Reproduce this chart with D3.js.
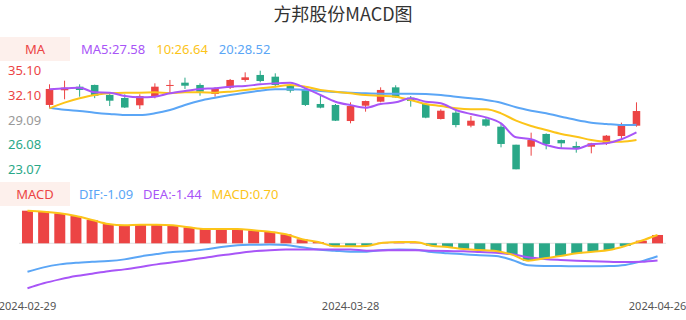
<!DOCTYPE html>
<html>
<head>
<meta charset="utf-8">
<script src="https://cdn.jsdelivr.net/npm/d3@7"></script>
<style>
body { margin: 0; background: #fff; }
svg { display: block; font-family: "Noto Sans", "Noto Sans CJK SC", sans-serif; }
</style>
</head>
<body>
<svg width="686" height="320"></svg>
<script>
const dates = ['2024-02-29', '2024-03-01', '2024-03-04', '2024-03-05', '2024-03-06', '2024-03-07', '2024-03-08',
    '2024-03-11', '2024-03-12', '2024-03-13', '2024-03-14', '2024-03-15', '2024-03-18', '2024-03-19', '2024-03-20',
    '2024-03-21', '2024-03-22', '2024-03-25', '2024-03-26', '2024-03-27', '2024-03-28', '2024-03-29', '2024-04-01',
    '2024-04-02', '2024-04-03', '2024-04-08', '2024-04-09', '2024-04-10', '2024-04-11', '2024-04-12', '2024-04-15',
    '2024-04-16', '2024-04-17', '2024-04-18', '2024-04-19', '2024-04-22', '2024-04-23', '2024-04-24', '2024-04-25',
    '2024-04-26'];
const open = [30.92, 32.71, 33.15, 33.36, 32.14, 31.77, 30.88, 32.01, 33.24, 33.64, 33.36, 32.26, 33.03, 33.97, 34.58,
    34.37, 33.36, 32.75, 31.04, 30.92, 28.96, 30.83, 31.32, 33.07, 31.81, 31.04, 29.21, 29.98, 28.39, 29.17, 28.27,
    26.07, 25.83, 27.38, 26.64, 25.91, 25.83, 26.24, 27.13, 28.39];
const high = [33.44, 33.88, 33.44, 33.40, 32.34, 32.22, 32.22, 33.56, 33.97, 34.25, 33.56, 33.07, 34.09, 34.90, 35.10,
    34.78, 33.48, 32.80, 32.05, 31.04, 31.24, 31.45, 33.07, 33.32, 32.01, 31.10, 30.39, 30.30, 29.57, 29.41, 28.60,
    26.07, 27.54, 27.45, 26.70, 26.44, 26.30, 27.25, 28.76, 31.24];
const low = [30.51, 31.61, 31.93, 31.75, 30.79, 30.55, 30.43, 31.73, 32.42, 32.87, 32.05, 31.93, 32.87, 33.76, 33.68,
    33.07, 32.42, 30.79, 30.51, 28.96, 28.68, 30.10, 31.24, 31.80, 30.71, 29.30, 29.15, 28.19, 28.19, 28.27, 25.75,
    23.07, 24.73, 25.51, 25.63, 25.10, 25.02, 26.03, 26.64, 28.27];
const close = [32.87, 33.03, 32.75, 32.05, 31.44, 30.61, 32.01, 33.15, 33.36, 33.27, 32.54, 32.95, 33.97, 34.29, 33.84,
    33.36, 32.66, 30.92, 30.59, 29.00, 30.79, 31.40, 32.75, 31.85, 31.40, 29.37, 30.22, 28.47, 29.00, 28.39, 26.16,
    23.07, 26.64, 26.16, 26.24, 25.63, 26.24, 27.17, 28.56, 30.18];
const ma5 = [32.83, 32.95, 33.03, 32.46, 32.42, 32.01, 31.85, 31.93, 32.34, 32.62, 32.87, 32.95, 33.15, 33.23, 33.44,
    33.56, 33.64, 32.95, 32.14, 31.32, 30.90, 30.59, 31.04, 31.24, 31.73, 31.32, 31.12, 30.30, 29.82, 29.41, 28.68,
    26.97, 26.73, 26.03, 25.63, 25.58, 26.12, 26.24, 26.73, 27.58];
const ma10 = [30.51, 31.20, 31.73, 32.14, 32.34, 32.42, 32.42, 32.46, 32.34, 32.46, 32.46, 32.42, 32.54, 32.75, 32.95,
    33.15, 33.36, 33.15, 32.75, 32.54, 32.34, 32.14, 32.05, 31.93, 31.53, 31.04, 30.79, 30.51, 30.39, 30.39, 29.90,
    29.00, 28.35, 27.86, 27.38, 27.05, 26.64, 26.44, 26.44, 26.64];
const ma20 = [30.59, 30.34, 30.18, 29.98, 29.82, 29.69, 29.69, 29.90, 30.30, 30.92, 31.44, 31.81, 32.14, 32.42, 32.66,
    32.83, 32.83, 32.75, 32.62, 32.50, 32.42, 32.34, 32.30, 32.30, 32.30, 32.26, 32.14, 31.93, 31.73, 31.53, 31.20,
    30.63, 30.22, 29.90, 29.49, 29.08, 28.76, 28.60, 28.47, 28.52];
const dif = [-2.39, -2.02, -1.77, -1.63, -1.55, -1.49, -1.35, -1.10, -0.90, -0.73, -0.65, -0.51, -0.31, -0.17, -0.12,
    -0.09, -0.14, -0.34, -0.53, -0.62, -0.70, -0.70, -0.57, -0.53, -0.54, -0.73, -0.84, -0.92, -1.01, -1.07, -1.40,
    -1.85, -1.91, -1.91, -1.93, -1.93, -1.91, -1.82, -1.52, -1.09];
const dea = [-3.78, -3.36, -3.03, -2.75, -2.55, -2.35, -2.19, -1.99, -1.77, -1.60, -1.40, -1.21, -1.01, -0.84, -0.67,
    -0.59, -0.53, -0.51, -0.51, -0.51, -0.51, -0.62, -0.60, -0.58, -0.58, -0.62, -0.65, -0.67, -0.73, -0.79, -0.92,
    -1.18, -1.32, -1.40, -1.46, -1.51, -1.55, -1.58, -1.55, -1.44];
const macd = [2.74, 2.66, 2.52, 2.29, 1.96, 1.62, 1.51, 1.56, 1.56, 1.51, 1.34, 1.20, 1.20, 1.20, 1.09, 0.97, 0.76,
    0.34, 0.11, -0.25, -0.25, -0.22, 0.05, 0.12, 0.10, -0.20, -0.30, -0.48, -0.56, -0.65, -0.95, -1.46, -1.26, -1.07,
    -0.84, -0.70, -0.56, -0.22, 0.22, 0.70];
const priceTicks = ['35.10', '32.10', '29.09', '26.08', '23.07'];
const dateTicks = ['2024-02-29', '2024-03-28', '2024-04-26'];

const red = '#ec4444';
const green = '#2aa888';
const purple = '#a855f7';
const yellow = '#fcc419';
const blue = '#5ba6f6';

const svg = d3.select('svg');

svg.append('text')
    .attr('x', 343)
    .attr('y', 21)
    .attr('text-anchor', 'middle')
    .style('font-family', '"Noto Sans CJK SC", sans-serif')
    .style('font-size', '18px')
    .attr('fill', '#333')
    .text('方邦股份MACD图');

// ---- candlestick panel
const xTop = d3.scalePoint()
    .domain(dates)
    .range([42, 644])
    .padding(0.5);
const yPrice = d3.scaleLinear()
    .domain([+priceTicks[4], +priceTicks[0]])
    .range([169.3, 70.7]);

const tickColors = [red, red, '#999', green, green];
svg.append('g').selectAll('text')
    .data(priceTicks)
    .enter()
    .append('text')
    .attr('x', 8)
    .attr('y', d => yPrice(+d))
    .attr('dy', '0.35em')
    .style('font-size', '13px')
    .attr('fill', (d, i) => tickColors[i])
    .text(d => d);

const candles = svg.append('g')
    .selectAll('g')
    .data(dates.map((d, i) => ({ date: d, o: open[i], h: high[i], l: low[i], c: close[i] })))
    .enter()
    .append('g');
const bodyW = xTop.step() * 0.5;
candles.append('line')
    .attr('x1', d => xTop(d.date))
    .attr('x2', d => xTop(d.date))
    .attr('y1', d => yPrice(d.h))
    .attr('y2', d => yPrice(d.l))
    .attr('stroke', d => d.c >= d.o ? red : green)
    .attr('stroke-width', 1);
candles.append('rect')
    .attr('x', d => xTop(d.date) - bodyW / 2)
    .attr('y', d => yPrice(Math.max(d.o, d.c)))
    .attr('width', bodyW)
    .attr('height', d => Math.max(1, Math.abs(yPrice(d.o) - yPrice(d.c))))
    .attr('fill', d => d.c >= d.o ? red : green);

const maLine = d3.line()
    .x((d, i) => xTop(dates[i]))
    .y(d => yPrice(d))
    .curve(d3.curveMonotoneX);
[[ma20, blue], [ma10, yellow], [ma5, purple]].forEach(([s, col]) => {
    svg.append('path')
        .attr('d', maLine(s))
        .attr('fill', 'none')
        .attr('stroke', col)
        .attr('stroke-width', 2);
});

function legend(y, title, items, startX, gap) {
    svg.append('rect')
        .attr('x', 0).attr('y', y)
        .attr('width', 70).attr('height', 24)
        .attr('fill', '#fdf0ec');
    svg.append('text')
        .attr('x', 35).attr('y', y + 12)
        .attr('dy', '0.35em')
        .attr('text-anchor', 'middle')
        .style('font-size', '13px')
        .attr('fill', red)
        .text(title);
    let x = startX;
    items.forEach(([label, col]) => {
        const t = svg.append('text')
            .attr('x', x).attr('y', y + 12)
            .attr('dy', '0.35em')
            .style('font-size', '13px')
            .attr('fill', col)
            .text(label);
        x += t.node().getComputedTextLength() + gap;
    });
}
const last = dates.length - 1;
legend(37, 'MA', [
    ['MA5:' + ma5[last].toFixed(2), purple],
    ['10:' + ma10[last].toFixed(2), yellow],
    ['20:' + ma20[last].toFixed(2), blue]
], 81, 11);

// ---- MACD panel
legend(182, 'MACD', [
    ['DIF:' + dif[last].toFixed(2), blue],
    ['DEA:' + dea[last].toFixed(2), purple],
    ['MACD:' + macd[last].toFixed(2), yellow]
], 79, 10);

const xBot = d3.scaleBand()
    .domain(dates)
    .range([19.4, 665.6])
    .paddingInner(0.32)
    .paddingOuter(0.16);
const yMacd = d3.scaleLinear()
    .domain(d3.extent([].concat(dif, dea, macd)))
    .range([288.3, 210.7]);

svg.append('line')
    .attr('x1', 19).attr('x2', 666)
    .attr('y1', yMacd(0)).attr('y2', yMacd(0))
    .attr('stroke', '#e2e2e2');

svg.append('g').selectAll('rect')
    .data(macd)
    .enter()
    .append('rect')
    .attr('x', (d, i) => xBot(dates[i]))
    .attr('y', d => yMacd(Math.max(0, d)))
    .attr('width', xBot.bandwidth())
    .attr('height', d => Math.abs(yMacd(d) - yMacd(0)))
    .attr('fill', d => d >= 0 ? red : green);

const mLine = d3.line()
    .x((d, i) => xBot(dates[i]) + xBot.bandwidth() / 2)
    .y(d => yMacd(d))
    .curve(d3.curveMonotoneX);
[[dif, blue], [dea, purple], [macd, yellow]].forEach(([s, col]) => {
    svg.append('path')
        .attr('d', mLine(s))
        .attr('fill', 'none')
        .attr('stroke', col)
        .attr('stroke-width', 2);
});

svg.append('g').selectAll('text')
    .data(dateTicks)
    .enter()
    .append('text')
    .attr('x', d => xBot(d) + xBot.bandwidth() / 2)
    .attr('y', 306)
    .attr('dy', '0.35em')
    .attr('text-anchor', 'middle')
    .style('font-size', '11px')
    .attr('fill', '#555')
    .text(d => d);
</script>
</body>
</html>
